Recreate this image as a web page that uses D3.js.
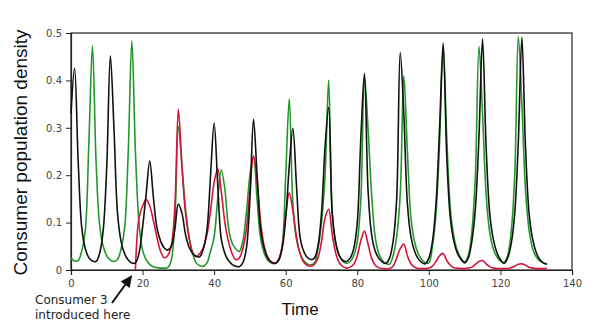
<!DOCTYPE html>
<html>
<head>
<meta charset="utf-8">
<script src="https://cdn.jsdelivr.net/npm/d3@7"></script>
<style>
  body { margin: 0; background: #fff; }
  svg { display: block; }
</style>
</head>
<body>
<div id="chart"></div>
<script>
// sample times (1 time unit apart)
const time = d3.range(0, 134);

// consumer 1 (black)
const consumer1 = [
  0.33, 0.426, 0.23, 0.09, 0.045, 0.026, 0.019, 0.018, 0.035, 0.084,
  0.22, 0.452, 0.3, 0.12, 0.06, 0.034, 0.021, 0.015, 0.015, 0.035,
  0.09, 0.16, 0.23, 0.155, 0.09, 0.062, 0.047, 0.042, 0.05, 0.085,
  0.139, 0.12, 0.075, 0.048, 0.035, 0.029, 0.028, 0.045, 0.085, 0.2,
  0.31, 0.18, 0.065, 0.035, 0.02, 0.012, 0.008, 0.007, 0.015, 0.045,
  0.15, 0.318, 0.2, 0.085, 0.045, 0.025, 0.017, 0.014, 0.02, 0.045,
  0.11, 0.22, 0.299, 0.18, 0.07, 0.04, 0.027, 0.022, 0.025, 0.05,
  0.12, 0.26, 0.343, 0.12, 0.057, 0.03, 0.02, 0.018, 0.025, 0.045,
  0.1, 0.28, 0.415, 0.17, 0.075, 0.04, 0.025, 0.017, 0.014, 0.025,
  0.06, 0.15, 0.459, 0.33, 0.14, 0.07, 0.04, 0.024, 0.016, 0.013,
  0.025, 0.06, 0.14, 0.3, 0.479, 0.24, 0.11, 0.06, 0.035, 0.022,
  0.015, 0.025, 0.06, 0.13, 0.28, 0.488, 0.26, 0.12, 0.065, 0.037,
  0.022, 0.014, 0.025, 0.055, 0.12, 0.27, 0.491, 0.26, 0.12, 0.065,
  0.037, 0.022, 0.015, 0.012
];

// consumer 2 (green)
const consumer2 = [
  0.025, 0.019, 0.02, 0.04, 0.084, 0.27, 0.473, 0.23, 0.095, 0.05,
  0.03, 0.021, 0.018, 0.022, 0.045, 0.09, 0.25, 0.484, 0.25, 0.1,
  0.042, 0.022, 0.012, 0.007, 0.005, 0.004, 0.004, 0.005, 0.02, 0.1,
  0.303, 0.22, 0.13, 0.07, 0.035, 0.015, 0.009, 0.008, 0.015, 0.04,
  0.07, 0.15, 0.211, 0.17, 0.09, 0.057, 0.045, 0.039, 0.06, 0.12,
  0.2, 0.237, 0.15, 0.065, 0.035, 0.02, 0.015, 0.014, 0.02, 0.05,
  0.2, 0.361, 0.14, 0.065, 0.035, 0.02, 0.013, 0.011, 0.014, 0.045,
  0.1, 0.2, 0.401, 0.12, 0.055, 0.03, 0.018, 0.014, 0.018, 0.03,
  0.06, 0.15, 0.408, 0.3, 0.16, 0.07, 0.035, 0.02, 0.014, 0.012,
  0.03, 0.07, 0.16, 0.41, 0.25, 0.11, 0.06, 0.035, 0.022, 0.016,
  0.015, 0.05, 0.12, 0.27, 0.47, 0.28, 0.13, 0.07, 0.04, 0.025,
  0.017, 0.03, 0.08, 0.2, 0.472, 0.33, 0.16, 0.08, 0.045, 0.028,
  0.019, 0.016, 0.03, 0.08, 0.2, 0.492, 0.35, 0.17, 0.085, 0.045,
  0.028, 0.019, 0.015, 0.013
];

// consumer 3 (red), introduced at t ~ 18
const consumer3 = [
  null, null, null, null, null, null, null, null, null, null,
  null, null, null, null, null, null, null, null, 0, 0.11,
  0.135, 0.149, 0.135, 0.105, 0.07, 0.04, 0.026, 0.03, 0.05, 0.13,
  0.339, 0.22, 0.12, 0.068, 0.037, 0.028, 0.035, 0.048, 0.075, 0.125,
  0.185, 0.213, 0.165, 0.1, 0.06, 0.035, 0.022, 0.025, 0.045, 0.085,
  0.17, 0.241, 0.19, 0.1, 0.05, 0.027, 0.016, 0.014, 0.022, 0.05,
  0.115, 0.163, 0.125, 0.07, 0.035, 0.017, 0.01, 0.008, 0.012, 0.025,
  0.06, 0.11, 0.128, 0.075, 0.035, 0.015, 0.007, 0.004, 0.006, 0.012,
  0.03, 0.062, 0.082, 0.055, 0.025, 0.01, 0.005, 0.003, 0.002, 0.003,
  0.008, 0.025, 0.045, 0.055, 0.03, 0.013, 0.006, 0.003, 0.003, 0.003,
  0.004, 0.008, 0.018, 0.03, 0.035, 0.02, 0.01, 0.005, 0.004, 0.003,
  0.003, 0.004, 0.006, 0.012, 0.018, 0.02, 0.013, 0.007, 0.004, 0.003,
  0.003, 0.003, 0.003, 0.005, 0.008, 0.012, 0.013, 0.01, 0.006, 0.004,
  0.003, 0.003, 0.003, 0.003
];

const xTicks = [0, 20, 40, 60, 80, 100, 120, 140];
const yTicks = [0, 0.1, 0.2, 0.3, 0.4, 0.5];

const width = 600;
const height = 329;
const margin = { top: 33, right: 28, bottom: 59, left: 71 };
const innerW = width - margin.left - margin.right;
const innerH = height - margin.top - margin.bottom;

const x = d3.scaleLinear().domain([0, 140]).range([0, innerW]);
const y = d3.scaleLinear().domain([0, 0.5]).range([innerH, 0]);

const svg = d3.select("#chart")
  .append("svg")
  .attr("width", width)
  .attr("height", height);

const g = svg.append("g")
  .attr("transform", `translate(${margin.left},${margin.top})`);

// frame
g.append("rect")
  .attr("width", innerW)
  .attr("height", innerH)
  .attr("fill", "none")
  .attr("stroke", "#222")
  .attr("stroke-width", 1.2);

const xAxis = g.append("g")
  .attr("transform", `translate(0,${innerH})`)
  .call(d3.axisBottom(x).tickValues(xTicks).tickSize(5).tickPadding(5).tickFormat(d3.format("d")));

const yAxis = g.append("g")
  .call(d3.axisLeft(y).tickValues(yTicks).tickSize(5).tickPadding(4)
    .tickFormat(d => d === 0 ? "0" : d3.format(".1f")(d)));

[xAxis, yAxis].forEach(a => {
  a.select(".domain").attr("stroke", "#222").attr("stroke-width", 1.2);
  a.selectAll(".tick line").attr("stroke", "#222");
  a.selectAll("text")
    .attr("fill", "#444")
    .style("font-family", "'DejaVu Sans', sans-serif")
    .style("font-size", "10px");
});

const series = [
  { name: "Consumer 2", values: consumer2, color: "#22982a" },
  { name: "Consumer 3", values: consumer3, color: "#d4143c" },
  { name: "Consumer 1", values: consumer1, color: "#111" }
];

const line = d3.line()
  .defined(d => d[1] !== null)
  .x(d => x(d[0]))
  .y(d => y(Math.max(0, d[1])))
  .curve(d3.curveCatmullRom.alpha(0.5));

g.selectAll("path.series")
  .data(series)
  .enter()
  .append("path")
  .attr("class", "series")
  .attr("d", s => line(time.map((t, i) => [t, s.values[i]])))
  .attr("fill", "none")
  .attr("stroke", s => s.color)
  .attr("stroke-width", 1.6)
  .attr("stroke-linejoin", "round");

// axis titles
svg.append("text")
  .attr("transform", `translate(${margin.left - 44},${margin.top + innerH / 2 + 1}) rotate(-90)`)
  .attr("text-anchor", "middle")
  .style("font-family", "'Liberation Sans', Arial, sans-serif")
  .style("font-size", "19px")
  .attr("fill", "#111")
  .text("Consumer population density");

svg.append("text")
  .attr("x", margin.left + x(64))
  .attr("y", 315)
  .attr("text-anchor", "middle")
  .style("font-family", "'Liberation Sans', Arial, sans-serif")
  .style("font-size", "17px")
  .attr("fill", "#111")
  .text("Time");

// annotation
const note = svg.append("g")
  .style("font-family", "'DejaVu Sans', sans-serif")
  .style("font-size", "12px")
  .attr("fill", "#222");
note.append("text").attr("x", 35).attr("y", 304).text("Consumer 3");
note.append("text").attr("x", 35).attr("y", 319).text("introduced here");

const tip = [margin.left + x(17.1), margin.top + innerH + 5];
const tail = [112, 303];
const dx = tip[0] - tail[0], dy = tip[1] - tail[1];
const len = Math.hypot(dx, dy);
const ux = dx / len, uy = dy / len;
const headL = 12, headW = 5.5;
const base = [tip[0] - ux * headL, tip[1] - uy * headL];
svg.append("line")
  .attr("x1", tail[0]).attr("y1", tail[1])
  .attr("x2", base[0]).attr("y2", base[1])
  .attr("stroke", "#111")
  .attr("stroke-width", 2);
svg.append("polygon")
  .attr("points", [
    tip,
    [base[0] - uy * headW, base[1] + ux * headW],
    [base[0] + uy * headW, base[1] - ux * headW]
  ].map(p => p.join(",")).join(" "))
  .attr("fill", "#111");
</script>
</body>
</html>
